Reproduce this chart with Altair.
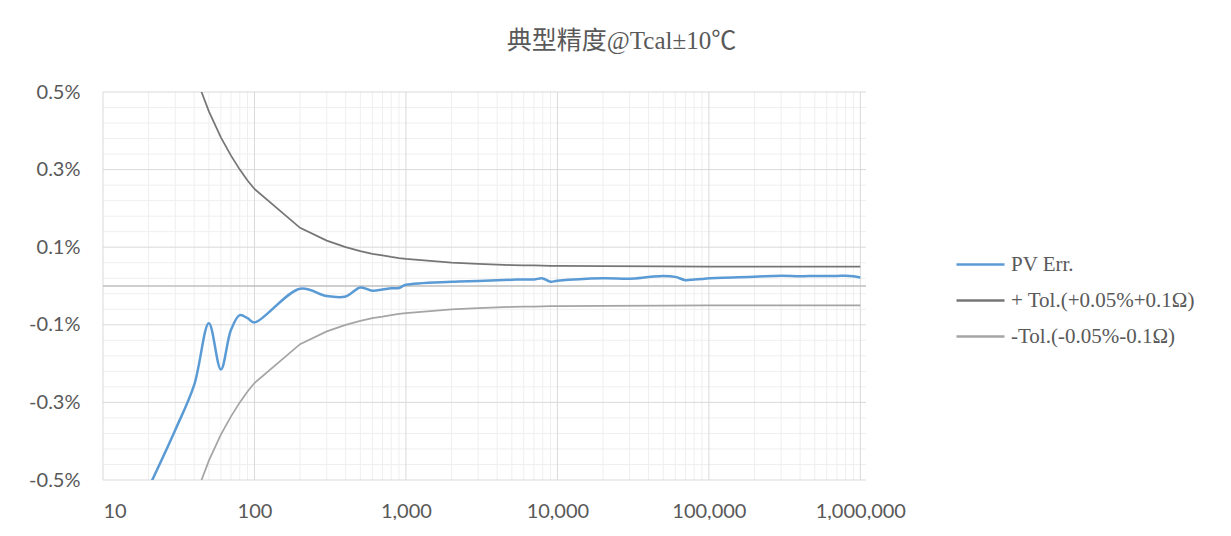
import altair as alt
import pandas as pd

# ---- data ----
pv_r = [20, 30, 40, 50, 60, 70, 80, 90, 100, 200, 300, 400, 500, 600, 700, 800, 900,
        1000, 2000, 3000, 4000, 5000, 6000, 7000, 8000, 9000, 10000,
        20000, 30000, 40000, 50000, 60000, 70000, 80000, 90000, 100000,
        200000, 300000, 400000, 500000, 600000, 700000, 800000, 900000, 1000000]
pv_err = [-0.52, -0.371, -0.255, -0.096, -0.215, -0.113, -0.075, -0.083, -0.094,
          -0.007, -0.026, -0.027, -0.004, -0.012, -0.009, -0.006, -0.005,
          0.003, 0.011, 0.013, 0.015, 0.016, 0.017, 0.017, 0.0195, 0.011, 0.0135,
          0.020, 0.019, 0.023, 0.026, 0.0235, 0.015, 0.017, 0.018, 0.020,
          0.024, 0.0265, 0.025, 0.026, 0.026, 0.026, 0.0265, 0.025, 0.022]

tol_r = [40, 50, 60, 70, 80, 90, 100, 200, 300, 400, 500, 600, 700, 800, 900,
         1000, 2000, 3000, 4000, 5000, 6000, 7000, 8000, 9000, 10000,
         20000, 50000, 100000, 1000000]
tol_plus = [0.55, 0.45, 0.383, 0.336, 0.30, 0.272, 0.25, 0.15, 0.117, 0.10, 0.09,
            0.083, 0.079, 0.075, 0.072, 0.07, 0.06, 0.057, 0.055, 0.054, 0.053,
            0.053, 0.0525, 0.052, 0.052, 0.051, 0.0504, 0.050, 0.050]
tol_minus = [-0.55, -0.45, -0.383, -0.336, -0.30, -0.272, -0.25, -0.15, -0.117, -0.10,
             -0.09, -0.083, -0.079, -0.075, -0.072, -0.07, -0.06, -0.057, -0.055,
             -0.054, -0.053, -0.053, -0.0525, -0.052, -0.052, -0.051, -0.0504,
             -0.050, -0.050]

series_names = ["PV Err.", "+ Tol.(+0.05%+0.1Ω)", "-Tol.(-0.05%-0.1Ω)"]
series_colors = ["#5B9BD5", "#767676", "#A5A5A5"]

x_major = [10, 100, 1000, 10000, 100000, 1000000]
x_minor = [m * 10 ** e for e in range(1, 6) for m in range(2, 10)]
y_major = [-0.5, -0.3, -0.1, 0.1, 0.3, 0.5]
y_minor = [-0.46, -0.42, -0.38, -0.34, -0.26, -0.22, -0.18, -0.14, -0.06, -0.02,
           0.02, 0.06, 0.14, 0.18, 0.22, 0.26, 0.34, 0.38, 0.42, 0.46]
y_ticks = y_major

title_text = "典型精度@Tcal±10℃"

# ---- tables ----
pv_df = pd.DataFrame({"R": pv_r, "v": pv_err, "s": series_names[0]})
tol_df = pd.concat([
    pd.DataFrame({"R": tol_r, "v": tol_plus, "s": series_names[1]}),
    pd.DataFrame({"R": tol_r, "v": tol_minus, "s": series_names[2]}),
])

xscale = alt.Scale(type="log", domain=[10, 1090000], nice=False)
yscale = alt.Scale(domain=[-0.5, 0.5], nice=False, zero=False)
cscale = alt.Scale(domain=series_names, range=series_colors)

xaxis = alt.Axis(values=x_major, format=",d", grid=False, domain=False, ticks=False,
                 labelPadding=21, title=None)
yaxis = alt.Axis(values=y_ticks, grid=False, domain=False, ticks=False,
                 labelPadding=23, title=None,
                 labelExpr="(datum.value < 0 ? '-' : '') + format(abs(datum.value), '.1f') + '%'")

legend = alt.Legend(title=None, orient="none", legendX=852, legendY=147,
                    symbolType="stroke", symbolSize=2304, symbolStrokeWidth=2.5,
                    labelFont="Liberation Serif", labelFontSize=21, labelColor="#595959",
                    labelOffset=5, labelLimit=400, rowPadding=-9, padding=0)

X = alt.X("R:Q", scale=xscale, axis=xaxis)
Y = alt.Y("v:Q", scale=yscale, axis=yaxis)

vminor = alt.Chart(pd.DataFrame({"R": x_minor})).mark_rule(color="#EFEFEF", strokeWidth=1).encode(x=X)
hminor = alt.Chart(pd.DataFrame({"v": y_minor})).mark_rule(color="#EFEFEF", strokeWidth=1).encode(y=Y)
vmajor = alt.Chart(pd.DataFrame({"R": x_major})).mark_rule(color="#D9D9D9", strokeWidth=1).encode(x=X)
hmajor = alt.Chart(pd.DataFrame({"v": y_major})).mark_rule(color="#D9D9D9", strokeWidth=1).encode(y=Y)
zero = alt.Chart(pd.DataFrame({"v": [0.0]})).mark_rule(color="#BFBFBF", strokeWidth=1.5).encode(y=Y)

tol = alt.Chart(tol_df).mark_line(strokeWidth=1.75, clip=True, interpolate="linear").encode(
    x=X, y=Y,
    color=alt.Color("s:N", scale=cscale, legend=legend, sort=series_names),
    detail="s:N",
)
pv = alt.Chart(pv_df).mark_line(strokeWidth=2.5, clip=True, interpolate="catmull-rom").encode(
    x=X, y=Y,
    color=alt.Color("s:N", scale=cscale, legend=legend, sort=series_names),
)

chart = alt.layer(vminor, hminor, vmajor, hmajor, zero, tol, pv).properties(
    width=763, height=388,
    autosize=alt.AutoSizeParams(type="none"),
    padding={"left": 95, "top": 84, "right": 357, "bottom": 40},
    title=alt.TitleParams(title_text, anchor="middle", frame="group", dx=137, offset=28,
                          font="'Liberation Serif', 'Noto Sans CJK SC', serif", fontSize=25,
                          fontWeight="normal", color="#595959"),
).configure_view(stroke=None).configure_axis(
    labelFont="Lato", labelFontSize=20, labelColor="#595959"
)

chart.save("out.html", embed_options={"renderer": "svg", "actions": False})
